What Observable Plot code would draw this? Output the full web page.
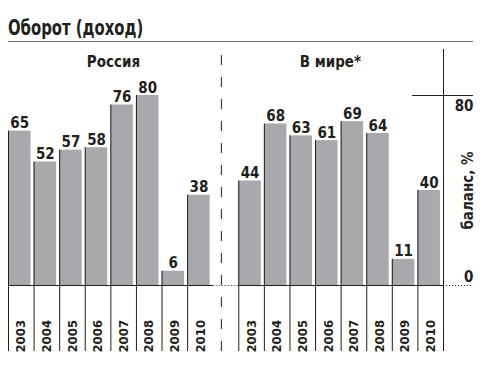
<!DOCTYPE html>
<html>
<head>
<meta charset="utf-8">
<script src="https://cdn.jsdelivr.net/npm/d3@7"></script>
<script src="https://cdn.jsdelivr.net/npm/@observablehq/plot@0.6"></script>
<style>
  html, body { margin: 0; padding: 0; background: #fff; }
  body { width: 500px; height: 379px; overflow: hidden; font-family: "Liberation Sans Narrow", "DejaVu Sans Condensed", "Liberation Sans", sans-serif; }
  #title { margin-left: 8px; width: 465px; height: 42px; box-sizing: border-box; border-bottom: 1.5px solid #6d6e71;
    font-size: 22px; font-weight: bold; line-height: 22px; padding-top: 17px; color: #231f20; white-space: nowrap; }
  #title span { display: inline-block; transform: scaleX(0.75); transform-origin: 0 50%; }
  svg { display: block; }
</style>
</head>
<body>
<div id="title"><span>Оборот (доход)</span></div>
<div id="chart"></div>
<script>
const years = ["2003", "2004", "2005", "2006", "2007", "2008", "2009", "2010"];
const russia = [65, 52, 57, 58, 76, 80, 6, 38];
const world = [44, 68, 63, 61, 69, 64, 11, 40];
const groups = ["Россия", "В мире*"];
const axisLabel = "баланс, %";
const ticks = [0, 80];

const rows = [
  ...russia.map((v, i) => ({pos: i, year: years[i], value: v})),
  ...world.map((v, i) => ({pos: i + 9, year: years[i], value: v}))
];

const ink = "#231f20";
const font = "'Liberation Sans Narrow', 'DejaVu Sans Condensed', 'Liberation Sans', sans-serif";
const yBottom = -27.8, yTop = 99.4, xEnd = 18.17;

const chart = Plot.plot({
  width: 500,
  height: 335,
  x: {type: "linear", domain: [0, 17], range: [8, 443], axis: null},
  y: {type: "linear", domain: [0, 80], range: [243, 53], axis: null},
  style: {fontFamily: font, background: "#fff"},
  marks: [
    Plot.rectY(rows, {x1: d => d.pos, x2: d => d.pos + 0.88, y1: 0, y2: "value", fill: "#a7a9ac"}),
    Plot.ruleX(rows, {x: "pos", y1: yBottom, y2: "value", stroke: ink, strokeWidth: 1}),
    Plot.ruleX([17], {x: d => d, y1: yBottom, y2: yTop, stroke: ink, strokeWidth: 1}),
    Plot.ruleX([8.32], {x: d => d, y1: yBottom, y2: yTop, stroke: ink, strokeWidth: 1, strokeDasharray: "10,12"}),
    Plot.ruleY([0], {y: d => d, x1: 0, x2: 8, stroke: ink, strokeWidth: 1}),
    Plot.ruleY([0], {y: d => d, x1: 8, x2: 9, stroke: ink, strokeWidth: 1, strokeDasharray: "1,2"}),
    Plot.ruleY([0], {y: d => d, x1: 9, x2: 17, stroke: ink, strokeWidth: 1}),
    Plot.ruleY([0], {y: d => d, x1: 17, x2: xEnd, stroke: ink, strokeWidth: 1, strokeDasharray: "1,2"}),
    Plot.ruleY([ticks[1]], {y: d => d, x1: 15.79, x2: xEnd, stroke: ink, strokeWidth: 1}),
    Plot.text(rows, {x: d => d.pos + 0.44, y: "value", text: d => String(d.value), lineAnchor: "bottom", dy: -3,
      fontSize: 15, fontWeight: "bold", fill: ink}),
    Plot.text(rows, {x: d => d.pos + 0.5, y: yBottom, text: "year", rotate: -90, textAnchor: "start", dy: 1,
      fontSize: 13, fontWeight: "bold", fill: ink}),
    Plot.text([ticks[1]], {x: xEnd, y: d => d, text: d => String(d), textAnchor: "end", lineAnchor: "top", dy: 5,
      fontSize: 15, fontWeight: "bold", fill: ink}),
    Plot.text([ticks[0]], {x: xEnd, y: d => d, text: d => String(d), textAnchor: "end", lineAnchor: "bottom", dy: -4,
      fontSize: 15, fontWeight: "bold", fill: ink}),
    Plot.text([axisLabel], {x: 17.98, y: 40, text: d => d, rotate: -90, textAnchor: "middle",
      fontSize: 15, fontWeight: "bold", fill: ink}),
    Plot.text(groups, {x: (d, i) => [4.1, 12.58][i], y: 92.2, text: d => d, lineAnchor: "bottom",
      fontSize: 15, fontWeight: "bold", fill: ink})
  ]
});
document.getElementById("chart").appendChild(chart);
</script>
</body>
</html>
